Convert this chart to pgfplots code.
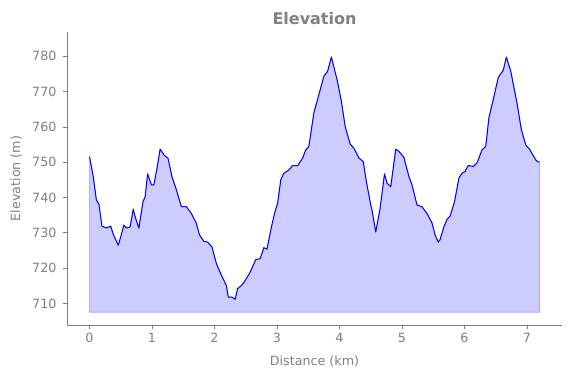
\documentclass[border=0pt]{standalone}
\usepackage{pgfplots}
\pgfplotsset{compat=1.18}
\usepackage{fontspec}
\setmainfont{DejaVu Sans}
\definecolor{txtgray}{HTML}{808080}
\begin{document}
\begin{tikzpicture}
\useasboundingbox (0,0) rectangle (571bp,378bp);
\begin{axis}[
  at={(67bp,53bp)}, anchor=south west,
  scale only axis, width=495bp, height=293bp,
  xmin=-0.36, xmax=7.56, ymin=703.9, ymax=786.9,
  axis x line*=bottom, axis y line*=left,
  axis line style={-, draw=txtgray, line width=0.8pt},
  xtick={0,1,...,7}, ytick={710,720,...,780},
  tick align=outside, major tick length=4bp,
  tick style={draw=txtgray, line width=0.8pt},
  /pgf/number format/assume math mode=true,
  ticklabel style={font=\fontsize{12.7bp}{15bp}\selectfont, text=txtgray},
  yticklabel style={xshift=-3bp},
  xticklabel style={yshift=-1bp},
  xlabel={Distance (km)}, ylabel={Elevation (m)},
  every axis x label/.style={at={(axis description cs:0.5,0)}, anchor=base, yshift=-40.7bp, font=\fontsize{12.7bp}{15bp}\selectfont, text=txtgray},
  every axis y label/.style={anchor=base, rotate=90, at={(-47bp,146.5bp)}, font=\fontsize{12.7bp}{15bp}\selectfont, text=txtgray},
  title={\bfseries Elevation},
  title style={font=\fontsize{16bp}{19bp}\selectfont, text=txtgray, at={(axis description cs:0.5,1)}, anchor=base, yshift=1.5bp},
  clip=false,
]
\addplot[fill=blue, fill opacity=0.2, draw=blue, draw opacity=0.25, line width=0.8pt] coordinates {
(0,707.5) (0.00,751.6) (0.06,746.0) (0.11,739.3) (0.15,738.2) (0.20,731.9) (0.27,731.4) (0.34,731.9) (0.38,729.6) (0.46,726.5) (0.50,728.9) (0.55,732.2) (0.59,731.4) (0.65,731.7) (0.70,736.7) (0.73,734.6) (0.79,731.3) (0.855,738.8) (0.89,740.2) (0.93,746.7) (0.99,743.6) (1.03,743.6) (1.08,748.3) (1.13,753.7) (1.20,751.9) (1.255,751.2) (1.32,745.9) (1.39,742.2) (1.47,737.4) (1.55,737.4) (1.63,735.5) (1.71,732.7) (1.76,729.4) (1.83,727.6) (1.89,727.4) (1.96,726.0) (2.03,721.3) (2.11,718.0) (2.19,715.1) (2.22,711.8) (2.28,711.8) (2.33,711.2) (2.37,714.2) (2.45,715.4) (2.56,718.5) (2.66,722.4) (2.73,722.7) (2.79,725.8) (2.84,725.4) (2.90,730.8) (2.96,735.5) (3.01,738.4) (3.06,745.0) (3.11,746.9) (3.19,747.8) (3.25,749.1) (3.33,749.0) (3.41,751.2) (3.46,753.5) (3.51,754.5) (3.59,764.0) (3.70,771.1) (3.75,774.4) (3.81,775.8) (3.87,779.8) (3.96,773.5) (4.03,767.3) (4.09,760.2) (4.17,755.2) (4.23,754.0) (4.31,751.2) (4.38,750.2) (4.43,744.5) (4.50,737.9) (4.52,736.5) (4.58,730.3) (4.65,737.0) (4.72,746.7) (4.76,744.1) (4.82,743.1) (4.90,753.7) (4.95,753.1) (5.03,751.4) (5.11,746.0) (5.16,743.6) (5.24,737.9) (5.32,737.4) (5.40,735.5) (5.48,732.8) (5.53,729.4) (5.58,727.4) (5.61,728.1) (5.67,731.7) (5.72,733.8) (5.77,734.8) (5.84,738.8) (5.91,745.5) (5.96,746.9) (6.01,747.4) (6.06,749.1) (6.14,748.8) (6.20,749.8) (6.28,753.5) (6.34,754.5) (6.39,762.6) (6.46,767.8) (6.54,774.0) (6.62,776.1) (6.67,779.8) (6.74,775.8) (6.84,766.8) (6.91,759.2) (6.98,754.9) (7.04,753.7) (7.11,751.6) (7.15,750.4) (7.20,750.0) (7.20,707.5)
} -- cycle;
\addplot[blue, line width=1pt, line join=round] coordinates {
(0.00,751.6) (0.06,746.0) (0.11,739.3) (0.15,738.2) (0.20,731.9) (0.27,731.4) (0.34,731.9) (0.38,729.6) (0.46,726.5) (0.50,728.9) (0.55,732.2) (0.59,731.4) (0.65,731.7) (0.70,736.7) (0.73,734.6) (0.79,731.3) (0.855,738.8) (0.89,740.2) (0.93,746.7) (0.99,743.6) (1.03,743.6) (1.08,748.3) (1.13,753.7) (1.20,751.9) (1.255,751.2) (1.32,745.9) (1.39,742.2) (1.47,737.4) (1.55,737.4) (1.63,735.5) (1.71,732.7) (1.76,729.4) (1.83,727.6) (1.89,727.4) (1.96,726.0) (2.03,721.3) (2.11,718.0) (2.19,715.1) (2.22,711.8) (2.28,711.8) (2.33,711.2) (2.37,714.2) (2.45,715.4) (2.56,718.5) (2.66,722.4) (2.73,722.7) (2.79,725.8) (2.84,725.4) (2.90,730.8) (2.96,735.5) (3.01,738.4) (3.06,745.0) (3.11,746.9) (3.19,747.8) (3.25,749.1) (3.33,749.0) (3.41,751.2) (3.46,753.5) (3.51,754.5) (3.59,764.0) (3.70,771.1) (3.75,774.4) (3.81,775.8) (3.87,779.8) (3.96,773.5) (4.03,767.3) (4.09,760.2) (4.17,755.2) (4.23,754.0) (4.31,751.2) (4.38,750.2) (4.43,744.5) (4.50,737.9) (4.52,736.5) (4.58,730.3) (4.65,737.0) (4.72,746.7) (4.76,744.1) (4.82,743.1) (4.90,753.7) (4.95,753.1) (5.03,751.4) (5.11,746.0) (5.16,743.6) (5.24,737.9) (5.32,737.4) (5.40,735.5) (5.48,732.8) (5.53,729.4) (5.58,727.4) (5.61,728.1) (5.67,731.7) (5.72,733.8) (5.77,734.8) (5.84,738.8) (5.91,745.5) (5.96,746.9) (6.01,747.4) (6.06,749.1) (6.14,748.8) (6.20,749.8) (6.28,753.5) (6.34,754.5) (6.39,762.6) (6.46,767.8) (6.54,774.0) (6.62,776.1) (6.67,779.8) (6.74,775.8) (6.84,766.8) (6.91,759.2) (6.98,754.9) (7.04,753.7) (7.11,751.6) (7.15,750.4) (7.20,750.0)
};
\end{axis}
\end{tikzpicture}
\end{document}
